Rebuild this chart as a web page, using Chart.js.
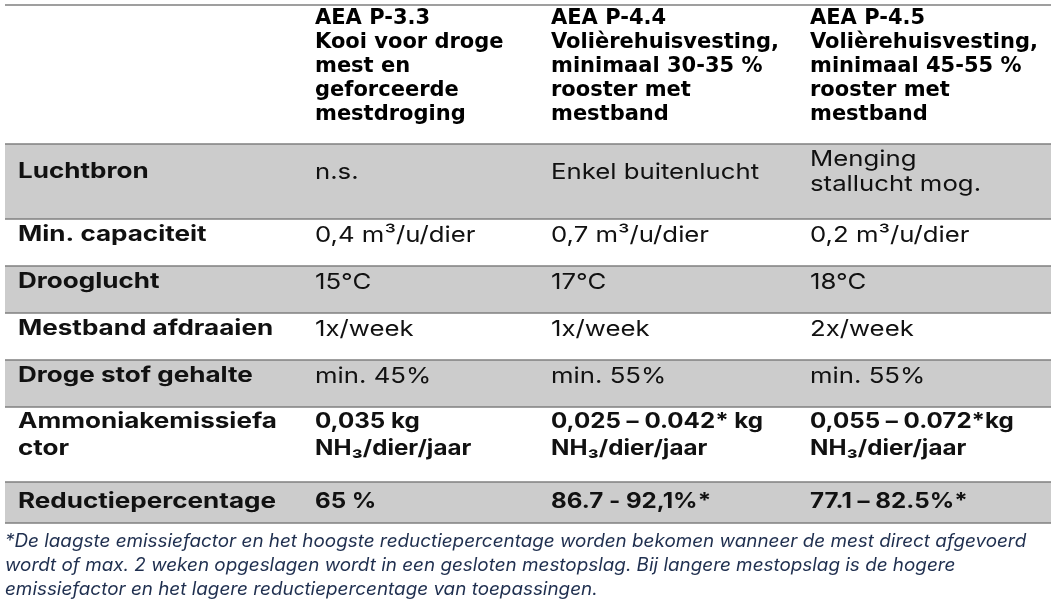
<!DOCTYPE html>
<html>
<head>
<meta charset="utf-8">
<script src="https://cdn.jsdelivr.net/npm/chart.js@4.4.0/dist/chart.umd.min.js"></script>
<style>
  html, body { margin: 0; background: #fff; }
  #wrap { width: 1051px; height: 612px; }
</style>
</head>
<body>
<div id="wrap"><canvas id="tableChart"></canvas></div>
<script>
// --- table content ---
const columnTitles = [
    ['AEA P-3.3', 'Kooi voor droge', 'mest en', 'geforceerde', 'mestdroging'],
    ['AEA P-4.4', 'Volièrehuisvesting,', 'minimaal 30-35 %', 'rooster met', 'mestband'],
    ['AEA P-4.5', 'Volièrehuisvesting,', 'minimaal 45-55 %', 'rooster met', 'mestband']
];
const rowLabels = [
    ['Luchtbron'], ['Min. capaciteit'], ['Drooglucht'], ['Mestband afdraaien'],
    ['Droge stof gehalte'], ['Ammoniakemissiefa', 'ctor'], ['Reductiepercentage']
];
const valuesP33 = [['n.s.'], ['0,4 m³/u/dier'], ['15°C'], ['1x/week'], ['min. 45%'], ['0,035 kg', 'NH₃/dier/jaar'], ['65 %']];
const valuesP44 = [['Enkel buitenlucht'], ['0,7 m³/u/dier'], ['17°C'], ['1x/week'], ['min. 55%'], ['0,025 – 0.042* kg', 'NH₃/dier/jaar'], ['86.7 - 92,1%*']];
const valuesP45 = [['Menging', 'stallucht mog.'], ['0,2 m³/u/dier'], ['18°C'], ['2x/week'], ['min. 55%'], ['0,055 – 0.072*kg', 'NH₃/dier/jaar'], ['77.1 – 82.5%*']];
const boldValueRows = [5, 6];
const footnote = [
    '*De laagste emissiefactor en het hoogste reductiepercentage worden bekomen wanneer de mest direct afgevoerd',
    'wordt of max. 2 weken opgeslagen wordt in een gesloten mestopslag. Bij langere mestopslag is de hogere',
    'emissiefactor en het lagere reductiepercentage van toepassingen.'
];

// --- layout (scale units) ---
const tableLeft = 5, tableRight = 1051;
const colTextX = [18, 315, 551, 810];
const rowEdges = [5, 144, 219, 266, 313, 360, 407, 482, 523];
const rowMid = [172, 235, 282, 329, 376, 435, 502];
const rowLineGap = [25, 25, 25, 25, 25, 27, 25];
const headerFirstLine = 19, headerLineGap = 23.8;
const footFirstLine = 542, footLineGap = 24;

const FONT = 'Inter, "Noto Sans", sans-serif';
const styles = {
    head:  { font: 'bold 21px "DejaVu Sans", sans-serif', stretch: 1.0, color: '#000' },
    label: { font: 'bold 21px ' + FONT, stretch: 1.24, color: '#111' },
    value: { font: '22px ' + FONT, stretch: 1.17, color: '#111' },
    bold:  { font: 'bold 21px ' + FONT, stretch: 1.15, color: '#111' },
    foot:  { font: 'italic 18px ' + FONT, stretch: 1.048, color: '#1f2f4f' }
};

function drawText(ctx, txt, x, y, st) {
    ctx.save();
    ctx.font = st.font;
    ctx.fillStyle = st.color;
    ctx.textBaseline = 'middle';
    ctx.textAlign = 'left';
    ctx.translate(x, y);
    ctx.scale(st.stretch, 1);
    ctx.fillText(txt, 0, 0);
    ctx.restore();
}

const tablePlugin = {
    id: 'tablePlugin',
    beforeDatasetsDraw(chart) {
        const ctx = chart.ctx;
        const xs = chart.scales.x, ys = chart.scales.y;
        const px = v => xs.getPixelForValue(v);
        const py = v => ys.getPixelForValue(v);

        // shaded rows (every other data row, starting with the first)
        rowLabels.forEach((lab, i) => {
            if (i % 2 === 0) {
                ctx.fillStyle = '#cccccc';
                ctx.fillRect(px(tableLeft), py(rowEdges[i + 1]), px(tableRight) - px(tableLeft), py(rowEdges[i + 2]) - py(rowEdges[i + 1]));
            }
        });

        // horizontal rules
        ctx.strokeStyle = '#7f7f7f';
        ctx.lineWidth = 1.5;
        rowEdges.forEach(e => {
            ctx.beginPath();
            ctx.moveTo(px(tableLeft), py(e));
            ctx.lineTo(px(tableRight), py(e));
            ctx.stroke();
        });

        // header
        columnTitles.forEach((lines, c) => {
            lines.forEach((t, k) => drawText(ctx, t, px(colTextX[c + 1]), py(headerFirstLine + k * headerLineGap), styles.head));
        });

        // body rows
        const cols = [rowLabels, valuesP33, valuesP44, valuesP45];
        rowLabels.forEach((_, r) => {
            cols.forEach((col, c) => {
                const lines = col[r];
                const st = c === 0 ? styles.label : (boldValueRows.includes(r) ? styles.bold : styles.value);
                const top = rowMid[r] - (lines.length - 1) * rowLineGap[r] / 2;
                lines.forEach((t, k) => drawText(ctx, t, px(colTextX[c]), py(top + k * rowLineGap[r]), st));
            });
        });

        // footnote
        footnote.forEach((t, k) => drawText(ctx, t, px(tableLeft), py(footFirstLine + k * footLineGap), styles.foot));
    }
};

new Chart(document.getElementById('tableChart'), {
    type: 'scatter',
    data: { datasets: [{ data: [], pointRadius: 0 }] },
    options: {
        responsive: true,
        maintainAspectRatio: false,
        animation: false,
        layout: { padding: 0 },
        plugins: { legend: { display: false }, tooltip: { enabled: false } },
        scales: {
            x: { type: 'linear', min: 0, max: 1051, display: false },
            y: { type: 'linear', min: 0, max: 612, reverse: true, display: false }
        }
    },
    plugins: [tablePlugin]
});
</script>
</body>
</html>
